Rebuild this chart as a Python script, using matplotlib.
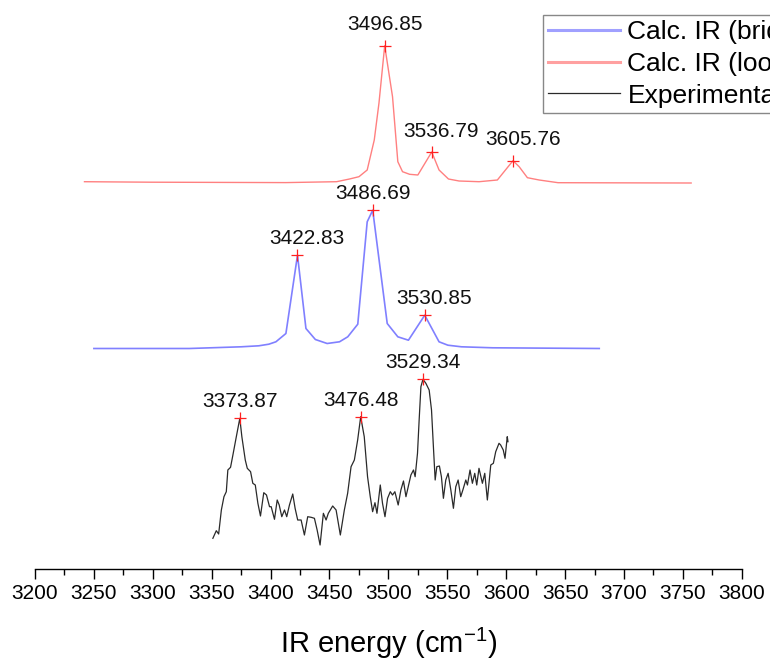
import matplotlib.pyplot as plt
from matplotlib.lines import Line2D
from matplotlib.ticker import MultipleLocator

plt.rcParams['font.family'] = ['Liberation Sans', 'DejaVu Sans']
plt.rcParams['mathtext.fontset'] = 'custom'
plt.rcParams['mathtext.rm'] = 'Liberation Sans'
plt.rcParams['mathtext.default'] = 'regular'

# Calc. IR (loop) - red
loop_x = [3242, 3298, 3413, 3456, 3467, 3475, 3482, 3488, 3492, 3496.85, 3503.5,
          3508, 3512, 3518, 3525, 3536.79, 3543, 3551, 3560, 3577, 3592.5,
          3605.76, 3611, 3618, 3628, 3644, 3757]
loop_y = [1.3, 0.8, 0.4, 1.3, 4, 6.3, 13, 43, 80, 137.3, 86.3,
          21.3, 11.3, 8.7, 8, 31, 13, 4, 2, 1.3, 3,
          22.3, 16.3, 5.3, 3, 0.3, 0]
loop_peaks = [3496.85, 3536.79, 3605.76]

# Calc. IR (bridge) - blue
bridge_x = [3250, 3331, 3375, 3390, 3398.5, 3404.5, 3413, 3422.83, 3430, 3438,
            3448, 3458.5, 3465.5, 3474, 3482, 3486.69, 3499, 3508, 3517,
            3530.85, 3543, 3550.5, 3562, 3588.5, 3679]
bridge_y = [0, 0, 1.7, 2.7, 4.3, 6.7, 15, 93.3, 20, 9,
            5, 6.7, 11.7, 24.3, 126.7, 138.3, 25, 11.7, 8.3,
            33.3, 6.7, 3.3, 1.7, 0.7, 0]
bridge_peaks = [3422.83, 3486.69, 3530.85]

# Experimental - black
exp_x = [3351.0, 3353.9, 3355.9, 3358.2, 3360.4, 3362.4, 3363.7, 3366.0, 3368.0, 3370.9,
         3373.87, 3375.6, 3378.5, 3380.2, 3383.0, 3384.9, 3387.0, 3389.2, 3391.4, 3394.2,
         3396.5, 3399.1, 3400.5, 3403.3, 3405.6, 3407.3, 3409.5, 3411.8, 3413.7, 3416.0,
         3418.8, 3420.8, 3423.0, 3425.9, 3428.7, 3431.5, 3434.4, 3437.2, 3439.5, 3442.0,
         3444.8, 3447.1, 3449.0, 3452.7, 3455.6, 3459.2, 3462.6, 3465.4, 3468.3, 3471.1,
         3473.9, 3476.48, 3479.5, 3482.3, 3484.6, 3486.6, 3488.6, 3490.3, 3493.1, 3495.0,
         3497.1, 3499.3, 3501.6, 3503.5, 3505.5, 3508.3, 3510.6, 3512.8, 3514.9, 3516.2,
         3519.1, 3521.3, 3522.7, 3524.7, 3526.1, 3527.6, 3529.34, 3531.8, 3534.6, 3536.6,
         3538.2, 3539.7, 3541.1, 3543.3, 3545.0, 3546.7, 3548.7, 3550.7, 3553.0, 3555.2,
         3557.2, 3559.2, 3561.4, 3563.2, 3565.7, 3567.1, 3569.3, 3571.3, 3573.3, 3575.0,
         3576.9, 3579.8, 3581.8, 3584.0, 3586.9, 3589.1, 3591.1, 3593.9, 3595.3, 3597.5,
         3599.0, 3600.9, 3601.5]
exp_y = [30.7, 38.3, 35, 59, 72.3, 77.3, 99, 101.7, 114, 132.3,
         150.7, 132.3, 109, 100.7, 97.3, 85.7, 84, 65.7, 53, 76.3,
         74, 62.3, 62.3, 49.7, 69, 64, 52.3, 59, 52.3, 64,
         75, 60.7, 49, 49, 34, 52.3, 51.7, 50.7, 39, 24,
         55.7, 49, 55.7, 63, 59, 34, 59, 75.7, 102.3, 109,
         129, 152.3, 132.3, 92.3, 72.3, 57.3, 66.3, 55.7, 84, 65.7,
         52.3, 70.7, 77.3, 74, 77.3, 64, 79, 88, 72.3, 79,
         94, 99, 92.3, 115.7, 149, 182.3, 189.7, 185.7, 179, 159,
         122.3, 89, 102.3, 103, 92.3, 70.7, 89, 95.7, 79, 60.7,
         82.3, 89, 72.3, 79, 89, 84, 99, 85.7, 95.7, 84,
         100.7, 85.7, 95.7, 69, 104, 105.7, 117.3, 125.7, 124, 119,
         110.7, 132.3, 127.3]
exp_peaks = [3373.87, 3476.48, 3529.34]

legend_labels = ['Calc. IR (bridge)', 'Calc. IR (loop)', 'Experimental']

# vertical stacking of the spectra (a.u.)
offsets = {'loop': 386, 'bridge': 220.5, 'exp': 0}
# labels moved a bit to the right in the original
label_nudge = {3422.83: 7, 3530.85: 7, 3536.79: 7, 3605.76: 7}

fig = plt.figure(figsize=(7.7, 6.63), dpi=100)
ax = fig.add_axes([35 / 770, 94 / 663, 706.8 / 770, 569 / 663])

series = [
    ('loop', loop_x, loop_y, loop_peaks, '#ff8080', 1.0, 11),
    ('bridge', bridge_x, bridge_y, bridge_peaks, '#8080ff', 1.2, 8),
    ('exp', exp_x, exp_y, exp_peaks, '#2a2a2a', 0.9, 8),
]

for name, xs, ys, peaks, color, lw, dy in series:
    off = offsets[name]
    ax.plot(xs, [v + off for v in ys], color=color, lw=lw, zorder=2)
    for p in peaks:
        py = ys[xs.index(p)] + off
        ax.plot(p, py, '+', color='#ff2020', ms=9, mew=0.9, zorder=4)
        ax.annotate(f'{p:.2f}', (p, py), xytext=(label_nudge.get(p, 0), dy),
                    textcoords='offset points', ha='center', va='baseline',
                    fontsize=15, color='#111111')

ax.set_xlim(3200, 3800)
ax.set_ylim(0, 569)
ax.xaxis.set_major_locator(MultipleLocator(50))
ax.xaxis.set_minor_locator(MultipleLocator(25))
ax.tick_params(axis='x', which='major', direction='out', length=7, width=1,
               pad=4, labelsize=15)
ax.tick_params(axis='x', which='minor', direction='out', length=4.3, width=1)
ax.set_yticks([])
for s in ['left', 'top', 'right']:
    ax.spines[s].set_visible(False)
ax.spines['bottom'].set_linewidth(1)
ax.set_xlabel('IR energy (cm$^{-1}$)', fontsize=21, labelpad=16)

handles = [Line2D([], [], color='#a0a0ff', lw=2.2),
           Line2D([], [], color='#ffa0a0', lw=2.2),
           Line2D([], [], color='#2a2a2a', lw=0.9)]
leg = fig.legend(handles, legend_labels, loc='upper left',
                 bbox_to_anchor=(543 / 770, 1 - 15 / 663), borderaxespad=0,
                 fontsize=19, fancybox=False, framealpha=1, edgecolor='#888888',
                 handlelength=2.7, handletextpad=0.3, borderpad=0.2,
                 labelspacing=0.29)
leg.get_frame().set_linewidth(1.0)

fig.savefig('out.png', dpi=100)
